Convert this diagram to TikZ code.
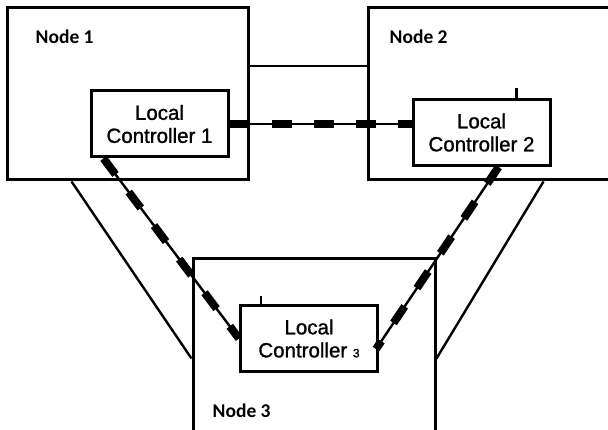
\documentclass[tikz,border=0pt]{standalone}
\usepackage{fontspec}
\setmainfont{Liberation Sans}
\newfontfamily\nodefont{Carlito}
\newfontfamily\ctrlfont{Liberation Sans}[FakeBold=1.2]
\usetikzlibrary{calc}

\begin{document}
\begin{tikzpicture}[
  x=1pt,y=1pt,
  nodebox/.style={rectangle,draw,line width=3pt,minimum width=#1,inner sep=0pt},
  ctrl/.style={rectangle,draw,line width=3pt,fill=white,align=center,inner sep=0pt,
    minimum width=137pt,minimum height=66pt,font=\ctrlfont\fontsize{20.5}{23}\selectfont},
  nodelabel/.style={anchor=west,inner sep=0pt,font=\nodefont\bfseries\fontsize{19.5}{22}\selectfont},
  wire/.style={line width=2.4pt},
  ctrllink/.style={line width=2.4pt,postaction={draw,line width=8pt,dash pattern=on 20pt off 22pt}},
]
\useasboundingbox (0,0) rectangle (608,430);

% node areas
\node[nodebox=241pt,minimum height=172pt] (node1) at (127.5,336) {};
\node[nodebox=244pt,minimum height=172pt] (node2) at (490,336) {};
\node[nodebox=242pt,minimum height=175pt] (node3) at (314,83.5) {};
\node[nodelabel] (node1lab) at ($(node1.north west)+(30,-30)$) {Node 1};
\node[nodelabel] (node2lab) at ($(node2.north west)+(23,-30)$) {Node 2};
\node[nodelabel] (node3lab) at ($(node3.north west)+(21,-153)$) {Node 3};

% links between nodes
\draw[wire] (node1.east |- 0,364) -- (node2.west |- 0,364);
\draw[wire] ($(node1.south west)+(66,0)$) -- ($(node3.north west)+(0,-101)$);
\draw[wire] ($(node2.south west)+(177,0)$) -- ($(node3.north east)+(0,-101)$);

% controllers
\node[ctrl] (lc1) at (159.5,306) {Local\\Controller 1};
\node[ctrl] (lc2) at (481.5,297.5) {Local\\Controller 2};
\node[ctrl] (lc3) at (309,91.5) {Local\\Controller {\fontsize{12}{13}\selectfont 3}};

\coordinate (lc2tick) at ($(lc2.north west)+(105,0)$);
\coordinate (lc3tick) at ($(lc3.north west)+(22,0)$);
\draw[wire] (lc2tick) -- ++(0,10);
\draw[wire] (lc3tick) -- ++(0,8);

% controller links
\draw[ctrllink] (lc1.east) -- (lc1.east -| lc2.west);
\draw[ctrllink] ($(lc1.south west)+(14,0)$) -- (lc3.west);
\draw[ctrllink] ($(lc2.south west)+(87,0)$) -- ($(lc3.south east)+(-3,24)$);
\end{tikzpicture}
\end{document}
